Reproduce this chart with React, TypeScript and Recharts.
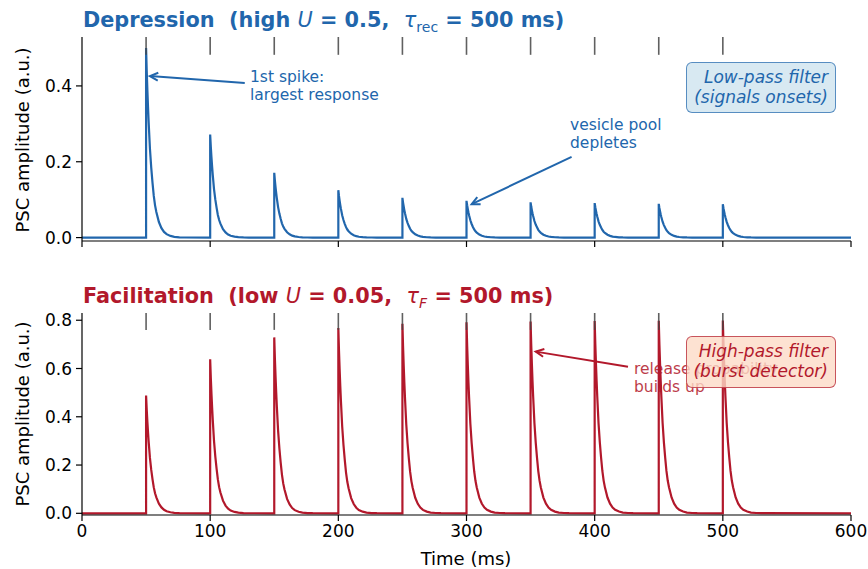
import React from 'react'
import { LineChart, Line, XAxis, YAxis, ReferenceLine } from 'recharts'

// spike train (ms) and peak PSC amplitude
const spikeTimes = [50, 100, 150, 200, 250, 300, 350, 400, 450, 500]
const depressionPeaks = [0.5, 0.272, 0.171, 0.125, 0.105, 0.097, 0.093, 0.091, 0.089, 0.088]
const facilitationPeaks = [0.488, 0.638, 0.729, 0.768, 0.785, 0.792, 0.795, 0.797, 0.798, 0.799]

// PSC shape after each spike: ms after spike -> fraction of peak
const decayOffsets = [0, 0.5, 1, 1.5, 2, 3, 4, 5, 6, 7, 8, 10, 12, 14, 16, 19, 22, 26, 30]
const decayFractions = [1, 0.88, 0.78, 0.69, 0.61, 0.47, 0.37, 0.29, 0.22, 0.17, 0.135, 0.082, 0.05, 0.03, 0.018, 0.009, 0.004, 0.0015, 0.0005]

const xTicks = [0, 100, 200, 300, 400, 500, 600]
const topYTicks = [0, 0.2, 0.4]
const bottomYTicks = [0, 0.2, 0.4, 0.6, 0.8]

const BLUE = '#2166ac'
const RED = '#b2182b'
const FONT = '"DejaVu Sans", sans-serif'

function buildTrace(peaks: number[]) {
  const pts: { t: number; v: number }[] = [{ t: 0, v: 0 }]
  spikeTimes.forEach((s, i) => {
    pts.push({ t: s, v: 0 })
    decayOffsets.forEach((o, k) => pts.push({ t: s + o, v: peaks[i] * decayFractions[k] }))
  })
  pts.push({ t: 600, v: 0 })
  return pts
}

const depressionData = buildTrace(depressionPeaks)
const facilitationData = buildTrace(facilitationPeaks)

const Arrow = (props: any) => {
  const { x1, y1, x2, y2, color } = props
  const ang = Math.atan2(y2 - y1, x2 - x1)
  const L = 9
  const a1 = ang + Math.PI - 0.45
  const a2 = ang + Math.PI + 0.45
  return (
    <g>
      <line x1={x1} y1={y1} x2={x2} y2={y2} stroke={color} strokeWidth={2} />
      <polyline
        points={`${x2 + L * Math.cos(a1)},${y2 + L * Math.sin(a1)} ${x2},${y2} ${x2 + L * Math.cos(a2)},${y2 + L * Math.sin(a2)}`}
        fill="none"
        stroke={color}
        strokeWidth={2}
      />
    </g>
  )
}

const tickStyle = { fontSize: 17, fill: '#000', fontFamily: FONT }
const axisLineStyle = { stroke: '#000', strokeWidth: 1.2 }

const abs = (left: number, top: number, extra: React.CSSProperties = {}): React.CSSProperties => ({
  position: 'absolute',
  left,
  top,
  fontFamily: FONT,
  whiteSpace: 'pre',
  ...extra,
})

export default function App() {
  return (
    <div style={{ position: 'absolute', left: 0, top: 0, width: 868, height: 569, background: '#fff', fontFamily: FONT }}>
      {/* top panel: depression */}
      <div style={{ position: 'absolute', left: 0, top: 0 }}>
        <LineChart width={868} height={262} margin={{ top: 37, right: 17, left: 32, bottom: 0 }}>
          <XAxis
            type="number"
            dataKey="t"
            domain={[0, 600]}
            ticks={xTicks}
            tickFormatter={() => ''}
            height={21}
            tickSize={6}
            axisLine={axisLineStyle}
            tickLine={axisLineStyle}
            allowDataOverflow
          />
          <YAxis
            type="number"
            domain={[-0.009, 0.529]}
            ticks={topYTicks}
            tickFormatter={(v: number) => v.toFixed(1)}
            width={50}
            tickSize={6}
            tickMargin={4}
            tick={tickStyle}
            axisLine={axisLineStyle}
            tickLine={axisLineStyle}
            allowDataOverflow
          />
          <Line data={depressionData} dataKey="v" type="linear" stroke={BLUE} strokeWidth={2.2} dot={false} isAnimationActive={false} />
          {spikeTimes.map((s) => (
            <ReferenceLine key={s} segment={[{ x: s, y: 0.482 }, { x: s, y: 0.529 }]} stroke="#444" strokeWidth={1.6} strokeOpacity={0.85} ifOverflow="visible" />
          ))}
          <ReferenceLine
            segment={[{ x: 127, y: 0.408 }, { x: 53, y: 0.426 }]}
            ifOverflow="visible"
            shape={(p: any) => <Arrow {...p} color={BLUE} />}
          />
          <ReferenceLine
            segment={[{ x: 382, y: 0.213 }, { x: 304, y: 0.088 }]}
            ifOverflow="visible"
            shape={(p: any) => <Arrow {...p} color={BLUE} />}
          />
        </LineChart>
      </div>

      {/* bottom panel: facilitation */}
      <div style={{ position: 'absolute', left: 0, top: 270 }}>
        <LineChart width={868} height={299} margin={{ top: 43, right: 17, left: 32, bottom: 24 }}>
          <XAxis
            type="number"
            dataKey="t"
            domain={[0, 600]}
            ticks={xTicks}
            height={30}
            tickSize={6}
            tickMargin={4}
            tick={tickStyle}
            axisLine={axisLineStyle}
            tickLine={axisLineStyle}
            allowDataOverflow
          />
          <YAxis
            type="number"
            domain={[-0.007, 0.83]}
            ticks={bottomYTicks}
            tickFormatter={(v: number) => v.toFixed(1)}
            width={50}
            tickSize={6}
            tickMargin={4}
            tick={tickStyle}
            axisLine={axisLineStyle}
            tickLine={axisLineStyle}
            allowDataOverflow
          />
          <Line data={facilitationData} dataKey="v" type="linear" stroke={RED} strokeWidth={2.2} dot={false} isAnimationActive={false} />
          {spikeTimes.map((s) => (
            <ReferenceLine key={s} segment={[{ x: s, y: 0.76 }, { x: s, y: 0.83 }]} stroke="#444" strokeWidth={1.6} strokeOpacity={0.85} ifOverflow="visible" />
          ))}
          <ReferenceLine
            segment={[{ x: 426, y: 0.607 }, { x: 354, y: 0.67 }]}
            ifOverflow="visible"
            shape={(p: any) => <Arrow {...p} color={RED} />}
          />
        </LineChart>
      </div>

      {/* titles */}
      <div style={abs(83, 8, { fontSize: 20.8, fontWeight: 'bold', color: BLUE, lineHeight: '24px' })}>
        {'Depression  (high '}
        <span style={{ fontStyle: 'italic', fontWeight: 'normal' }}>U</span>
        {' = 0.5,  '}
        <span style={{ fontWeight: 'normal' }}>
          <span style={{ fontStyle: 'italic' }}>τ</span>
          <sub style={{ fontSize: 14 }}>rec</sub>
        </span>
        {' = 500 ms)'}
      </div>
      <div style={abs(83, 284, { fontSize: 20.8, fontWeight: 'bold', color: RED, lineHeight: '24px' })}>
        {'Facilitation  (low '}
        <span style={{ fontStyle: 'italic', fontWeight: 'normal' }}>U</span>
        {' = 0.05,  '}
        <span style={{ fontWeight: 'normal' }}>
          <span style={{ fontStyle: 'italic' }}>τ</span>
          <sub style={{ fontSize: 14, fontStyle: 'italic' }}>F</sub>
        </span>
        {' = 500 ms)'}
      </div>

      {/* axis labels */}
      <div style={abs(22, 140, { fontSize: 18, transform: 'translate(-50%, -50%) rotate(-90deg)' })}>PSC amplitude (a.u.)</div>
      <div style={abs(22, 414, { fontSize: 18, transform: 'translate(-50%, -50%) rotate(-90deg)' })}>PSC amplitude (a.u.)</div>
      <div style={abs(466, 558, { fontSize: 18, transform: 'translate(-50%, -50%)' })}>Time (ms)</div>

      {/* annotations */}
      <div style={abs(250, 69, { fontSize: 15.5, color: BLUE, lineHeight: '17.5px' })}>{'1st spike:\nlargest response'}</div>
      <div style={abs(570, 117, { fontSize: 15.5, color: BLUE, lineHeight: '17.5px' })}>{'vesicle pool\ndepletes'}</div>
      <div style={abs(634, 361, { fontSize: 15.5, color: RED, opacity: 0.85, lineHeight: '17.5px' })}>{'release probability\nbuilds up'}</div>

      {/* filter boxes */}
      <div
        style={abs(686, 62, {
          width: 150,
          height: 51,
          boxSizing: 'border-box',
          background: 'rgba(209,229,240,0.85)',
          border: '1.6px solid rgba(33,102,172,0.7)',
          borderRadius: 6,
          color: BLUE,
          fontSize: 17,
          fontStyle: 'italic',
          textAlign: 'right',
          lineHeight: '20px',
          padding: '4px 7px 0 0',
        })}
      >
        {'Low-pass filter\n(signals onsets)'}
      </div>
      <div
        style={abs(686, 336, {
          width: 150,
          height: 51.5,
          boxSizing: 'border-box',
          background: 'rgba(253,219,199,0.8)',
          border: '1.6px solid rgba(178,24,43,0.7)',
          borderRadius: 6,
          color: RED,
          fontSize: 17,
          fontStyle: 'italic',
          textAlign: 'right',
          lineHeight: '20px',
          padding: '4px 7px 0 0',
        })}
      >
        {'High-pass filter\n(burst detector)'}
      </div>
    </div>
  )
}
